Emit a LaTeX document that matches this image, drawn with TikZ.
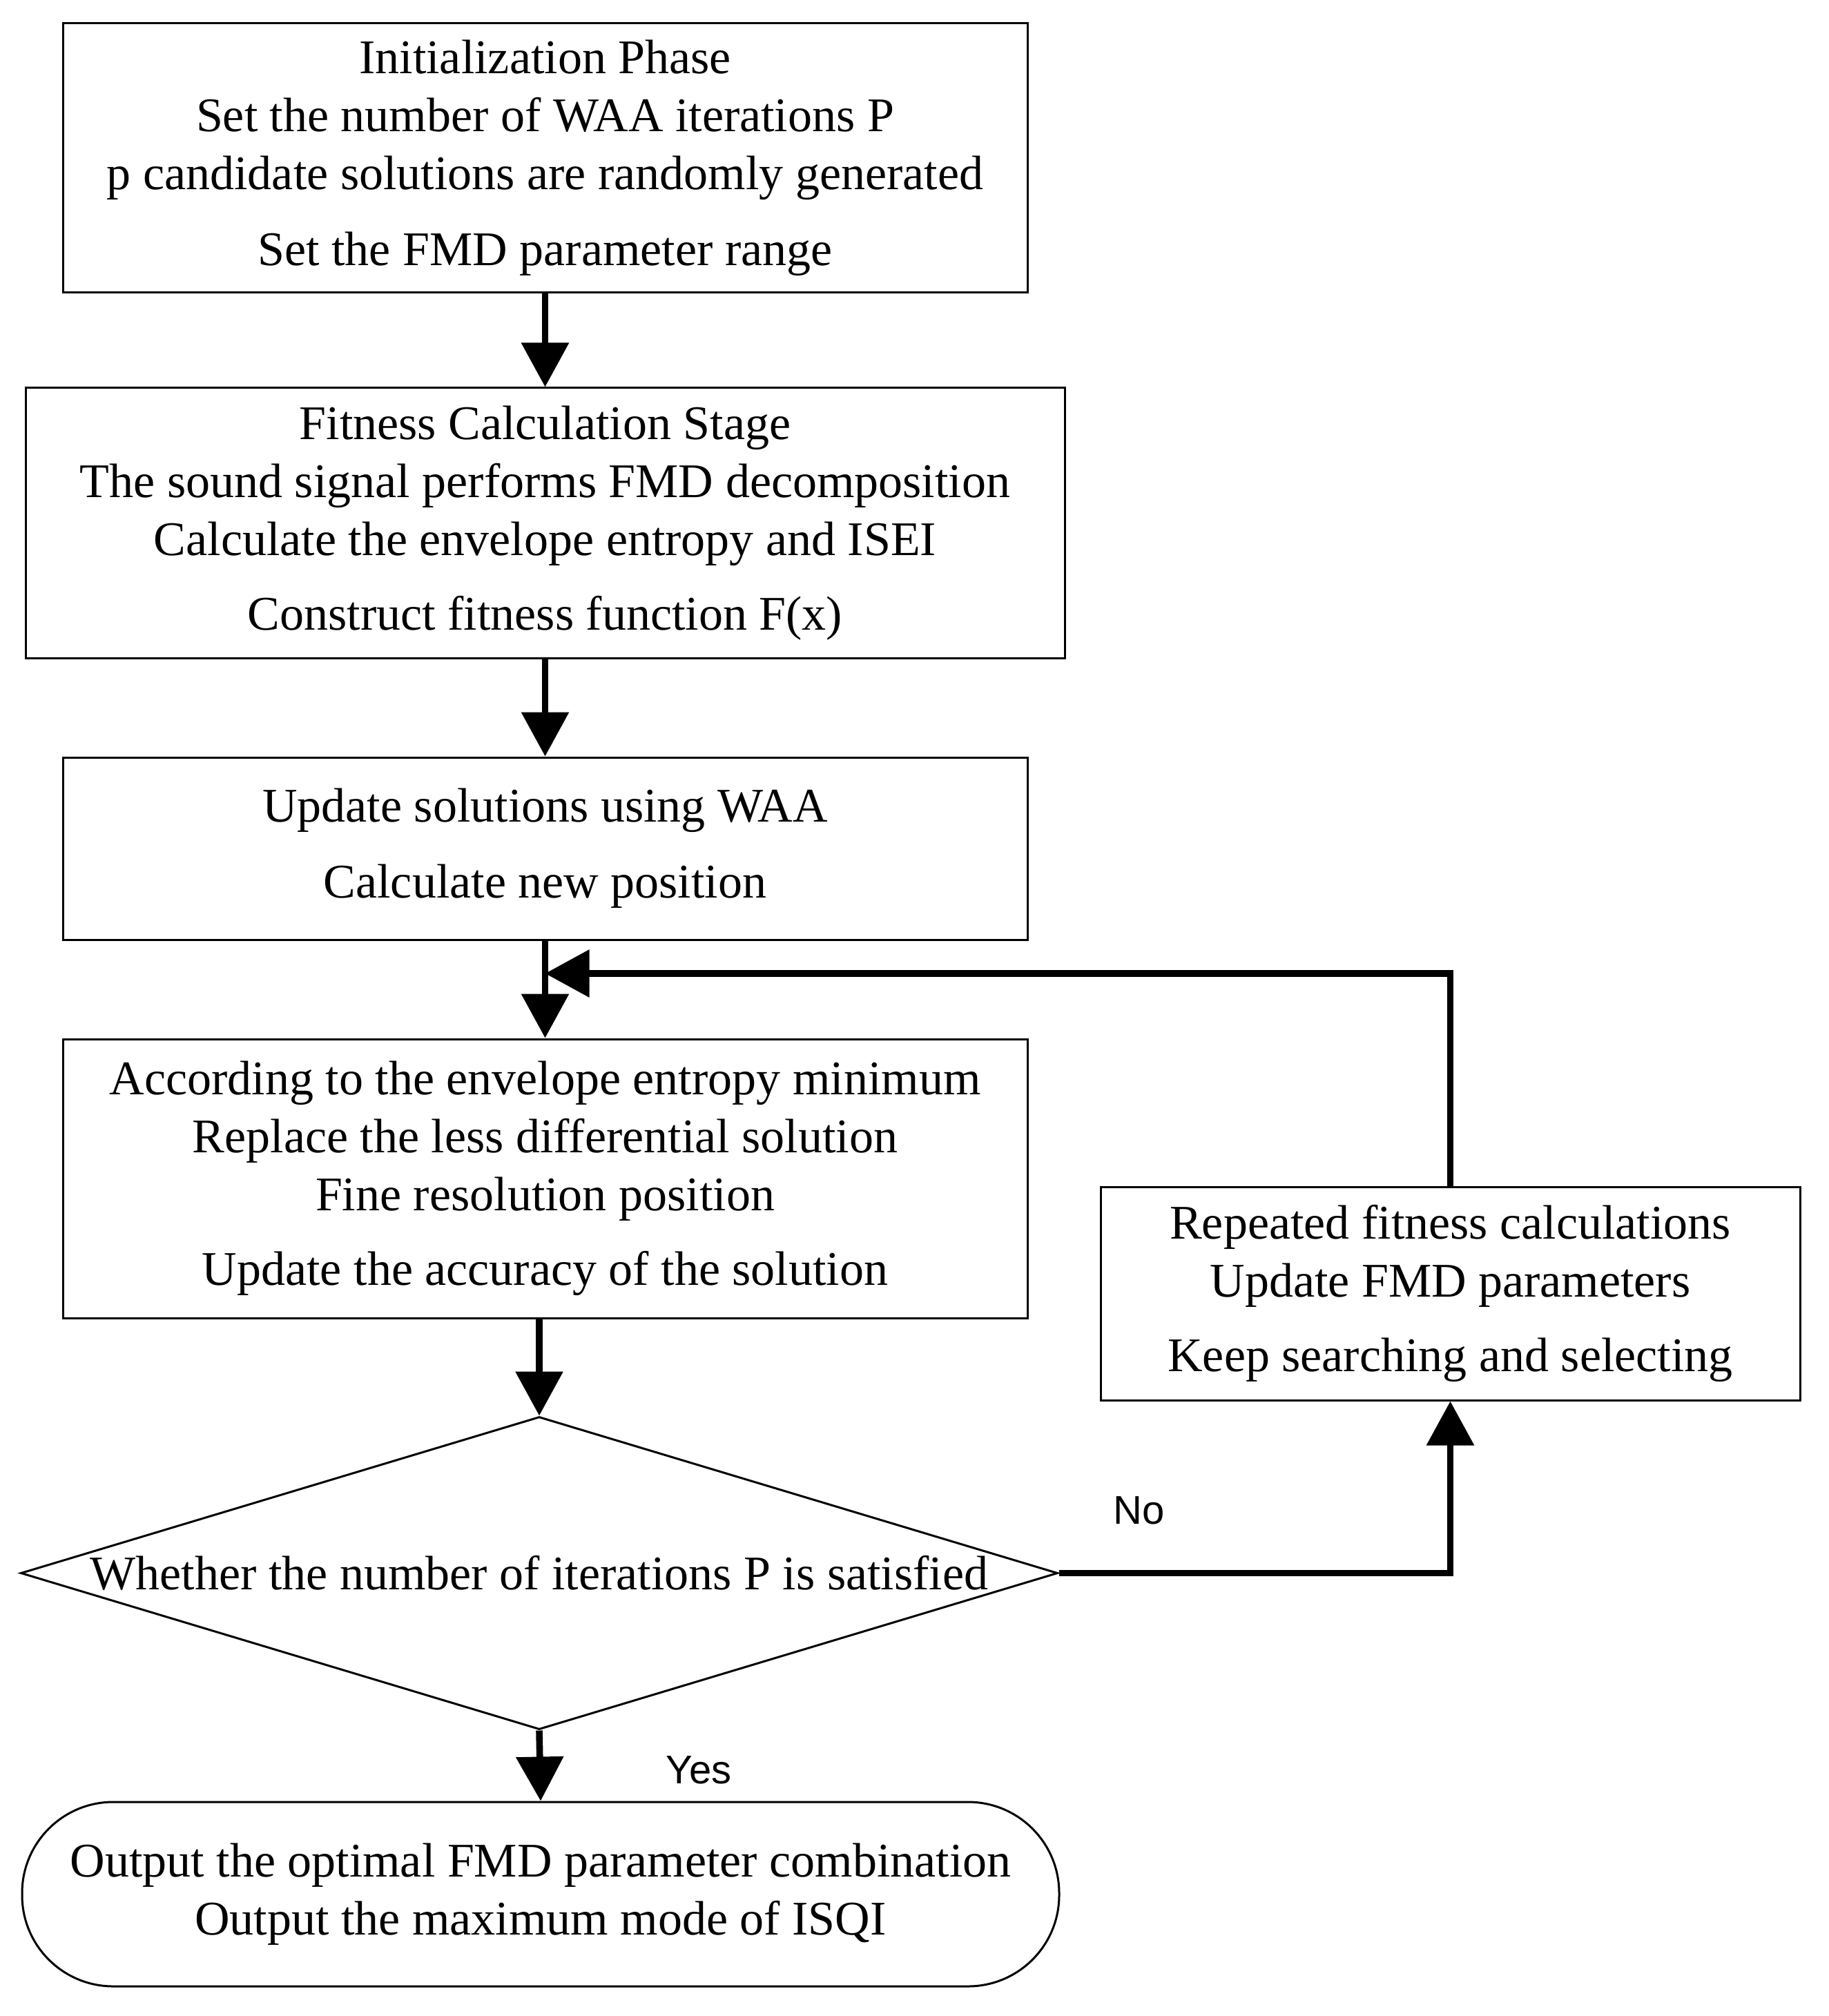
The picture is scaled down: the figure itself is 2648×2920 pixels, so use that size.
\documentclass[tikz,border=0pt]{standalone}
\usepackage{fontspec}
\setmainfont{Liberation Serif}
\newfontfamily\labelfont{Liberation Sans}
\usetikzlibrary{arrows.meta,shapes.geometric}
\tikzset{
  box/.style={draw, line width=0.75pt, rectangle, inner sep=0pt, align=center,
    font=\fontsize{17.5}{21}\selectfont},
  decision/.style={draw, line width=0.75pt, diamond, inner sep=0pt,
    font=\fontsize{17.5}{21}\selectfont},
  terminal/.style={draw, line width=0.75pt, rectangle, rounded corners=33pt, inner sep=0pt, align=center,
    font=\fontsize{17.5}{21}\selectfont},
  arr/.style={line width=2.4pt, -{Triangle[length=16pt,width=16.75pt]}},
  lbl/.style={inner sep=0pt, font=\labelfont\fontsize{14.5}{17}\selectfont}
}
\begin{document}
\begin{tikzpicture}[x=0.25pt,y=-0.25pt]
\useasboundingbox (0,0) rectangle (2648,2920);
\node[box, minimum width=349.25pt, minimum height=97.5pt] (box1) at (789.5,229)
  {Initialization Phase\\Set the number of WAA iterations P\\p candidate solutions are randomly generated\\[6.5pt]Set the FMD parameter range};
\node[box, minimum width=376.25pt, minimum height=97.75pt] (box2) at (789.5,757.5)
  {Fitness Calculation Stage\\The sound signal performs FMD decomposition\\Calculate the envelope entropy and ISEI\\[6pt]Construct fitness function F(x)};
\node[box, minimum width=349.25pt, minimum height=66pt] (box3) at (789.5,1229)
  {Update solutions using WAA\\[6.5pt]Calculate new position};
\node[box, minimum width=349.25pt, minimum height=101pt] (box4) at (789.5,1707)
  {According to the envelope entropy minimum\\Replace the less differential solution\\Fine resolution position\\[6pt]Update the accuracy of the solution};
\node[box, minimum width=253.25pt, minimum height=77.25pt] (box5) at (2100.5,1873.5)
  {Repeated fitness calculations\\Update FMD parameters\\[6pt]Keep searching and selecting};
\node[decision, minimum width=375.5pt, minimum height=113.25pt] (dia) at (781,2278.5)
  {\makebox[0pt]{Whether the number of iterations P is satisfied}};
\node[terminal, minimum width=375.5pt, minimum height=66.75pt] (term) at (783,2743.5)
  {Output the optimal FMD parameter combination\\Output the maximum mode of ISQI};
\coordinate (loop) at (789.5,1410);
\draw[arr] (box1.south) -- (box2.north);
\draw[arr] (box2.south) -- (box3.north);
\draw[arr] (box3.south) -- (box4.north);
\draw[arr] (box4.south -| dia.north) -- (dia.north);
\draw[arr] (dia.south) -- (term.north);
\draw[arr] (dia.east) -| (box5.south);
\draw[arr] (box5.north) |- (loop);
\node[lbl] (no) at (1650,2188) {No};
\node[lbl] (yes) at (1012,2564) {Yes};
\end{tikzpicture}
\end{document}
